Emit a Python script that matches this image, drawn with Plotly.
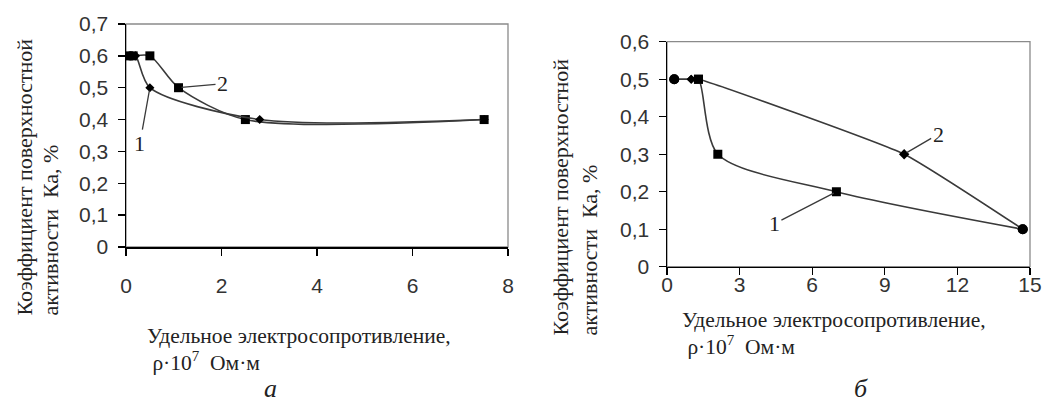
import plotly.graph_objects as go

# ---------------- data ----------------
# Chart a
a_x1 = [0.1, 0.2, 0.5, 2.8, 7.5]
a_y1 = [0.6, 0.6, 0.5, 0.4, 0.4]
a_x2 = [0.05, 0.15, 0.5, 1.1, 2.5, 7.5]
a_y2 = [0.6, 0.6, 0.6, 0.5, 0.4, 0.4]
a_xticks = [0, 2, 4, 6, 8]
a_yticks = [0, 0.1, 0.2, 0.3, 0.4, 0.5, 0.6, 0.7]
a_yticklabels = ["0", "0,1", "0,2", "0,3", "0,4", "0,5", "0,6", "0,7"]

# Chart б
b_x1 = [0.3, 1.0, 1.3, 2.1, 7.0, 14.7]
b_y1 = [0.5, 0.5, 0.5, 0.3, 0.2, 0.1]
b_x2 = [0.3, 1.0, 1.3, 9.8, 14.7]
b_y2 = [0.5, 0.5, 0.5, 0.3, 0.1]
b_xticks = [0, 3, 6, 9, 12, 15]
b_yticks = [0, 0.1, 0.2, 0.3, 0.4, 0.5, 0.6]
b_yticklabels = ["0", "0,1", "0,2", "0,3", "0,4", "0,5", "0,6"]

ytitle_1 = "Коэффициент поверхностной"
ytitle_2 = "активности  Ка, %"
xtitle_1 = "Удельное электросопротивление,"
xtitle_2 = " ρ·10<sup>7</sup>  Ом·м"

W, H = 1046, 405
LINE = "#3a3a3a"
SERIF = "Liberation Serif, Times New Roman, serif"
SANS = "Liberation Sans, Arial, sans-serif"

def px(xp):
    return xp / W

def py(yp):
    return (H - yp) / H

fig = go.Figure()

# chart a traces
fig.add_trace(go.Scatter(x=a_x2, y=a_y2, mode="lines+markers", xaxis="x", yaxis="y",
                         line=dict(color=LINE, width=1.6, shape="spline", smoothing=0.8),
                         marker=dict(symbol="square", size=9, color="#000", opacity=1, line=dict(width=0)),
                         showlegend=False))
fig.add_trace(go.Scatter(x=a_x1, y=a_y1, mode="lines+markers", xaxis="x", yaxis="y",
                         line=dict(color=LINE, width=1.6, shape="spline", smoothing=0.8),
                         marker=dict(symbol="diamond", size=7, color="#000", opacity=1, line=dict(width=0)),
                         showlegend=False))

# chart б traces
fig.add_trace(go.Scatter(x=b_x2, y=b_y2, mode="lines+markers", xaxis="x2", yaxis="y2",
                         line=dict(color=LINE, width=1.6, shape="spline", smoothing=0.4),
                         marker=dict(symbol=["circle", "diamond", "square", "diamond", "circle"],
                                     size=[10, 7, 9, 8, 10], color="#000", opacity=1, line=dict(width=0)),
                         showlegend=False))
fig.add_trace(go.Scatter(x=b_x1, y=b_y1, mode="lines+markers", xaxis="x2", yaxis="y2",
                         line=dict(color=LINE, width=1.6, shape="spline", smoothing=0.8),
                         marker=dict(symbol=["circle", "diamond", "square", "square", "square", "circle"],
                                     size=[10, 7, 9, 9, 9, 10], color="#000", opacity=1, line=dict(width=0)),
                         showlegend=False))

tickfont = dict(family=SANS, size=21, color="#333")
common_axis = dict(showgrid=False, zeroline=False, showline=True, linecolor="black", linewidth=1.5,
                   ticks="outside", ticklen=7, tickcolor="black", tickwidth=1.3, tickfont=tickfont,
                   automargin=False)

fig.update_layout(
    width=W, height=H, margin=dict(l=0, r=0, t=0, b=0, autoexpand=False),
    paper_bgcolor="white", plot_bgcolor="white", hovermode=False,
    xaxis=dict(domain=[px(126), px(508)], range=[0, 8], tickvals=a_xticks, anchor="y",
               ticklabelstandoff=12, **common_axis),
    yaxis=dict(domain=[py(247), py(24)], range=[0, 0.7], tickvals=a_yticks, ticktext=a_yticklabels,
               anchor="x", ticklabelstandoff=5, **common_axis),
    xaxis2=dict(domain=[px(667), px(1030)], range=[0, 15], tickvals=b_xticks, anchor="y2",
                ticklabelstandoff=-8, **common_axis),
    yaxis2=dict(domain=[py(266.7), py(41.7)], range=[0, 0.6], tickvals=b_yticks, ticktext=b_yticklabels,
                anchor="x2", ticklabelstandoff=5, **common_axis),
)

# gray plot-area borders (top / right)
for xr, yr in (("x domain", "y domain"), ("x2 domain", "y2 domain")):
    fig.add_shape(type="rect", xref=xr, yref=yr, x0=0, x1=1, y0=0, y1=1,
                  line=dict(color="#8a8a8a", width=1.3), layer="below")

labfont = dict(family=SERIF, size=22, color="#222")
annots = [
    # leader labels
    dict(x=a_x2[3], y=a_y2[3], xref="x", yref="y", text="2", ax=44, ay=-4),
    dict(x=a_x1[2], y=a_y1[2], xref="x", yref="y", text="1", ax=-10, ay=56),
    dict(x=b_x2[3], y=b_y2[3], xref="x2", yref="y2", text="2", ax=34, ay=-20),
    dict(x=b_x1[4], y=b_y1[4], xref="x2", yref="y2", text="1", ax=-62, ay=32),
]
for a in annots:
    fig.add_annotation(showarrow=True, arrowhead=0, arrowwidth=1.3, arrowcolor=LINE,
                       font=labfont, standoff=3, **a)

ytfont = dict(family=SERIF, size=22, color="#222")
xtfont = dict(family=SERIF, size=21.5, color="#222")

def ytext(text, xc, ybottom):
    fig.add_annotation(x=px(xc), y=py(ybottom), xref="paper", yref="paper", text=text, textangle=-90,
                       showarrow=False, font=ytfont, xanchor="center", yanchor="bottom")

def xtext(text, xl, yc):
    fig.add_annotation(x=px(xl), y=py(yc), xref="paper", yref="paper", text=text,
                       showarrow=False, font=xtfont, xanchor="left", yanchor="middle")

# y titles
ytext(ytitle_1, 24, 318)
ytext(ytitle_2, 50, 318)
ytext(ytitle_1, 560, 338)
ytext(ytitle_2, 589, 338)
# x titles
xtext(xtitle_1, 145, 336)
xtext(xtitle_2, 145, 361)
xtext(xtitle_1, 680, 320)
xtext(xtitle_2, 680, 345)
# panel letters
fig.add_annotation(x=px(270), y=py(405), xref="paper", yref="paper", text="<i>а</i>",
                   xanchor="center", yanchor="bottom",
                   showarrow=False, font=dict(family=SERIF, size=26, color="#222"))
fig.add_annotation(x=px(861), y=py(405), xref="paper", yref="paper", text="<i>б</i>",
                   xanchor="center", yanchor="bottom",
                   showarrow=False, font=dict(family=SERIF, size=26, color="#222"))

fig.write_html("out.html", config={"displayModeBar": False, "staticPlot": True},
               post_script="document.body.style.margin='0';")
